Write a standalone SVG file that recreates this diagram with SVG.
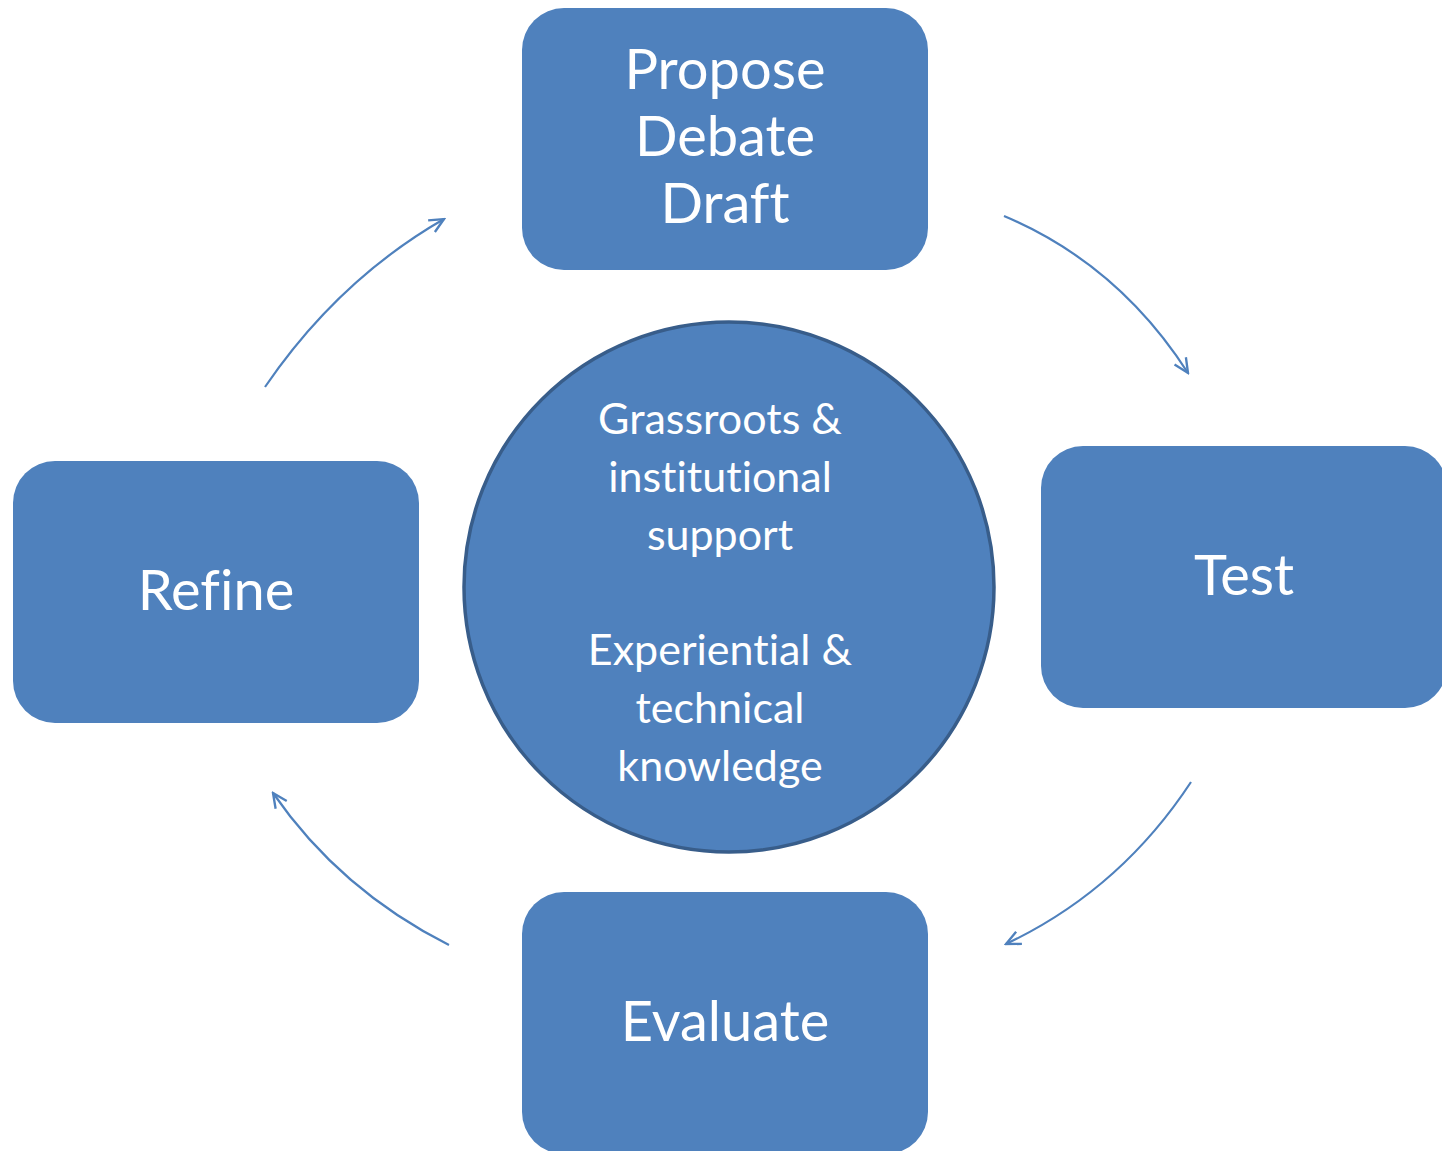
<svg xmlns="http://www.w3.org/2000/svg" width="1442" height="1151" viewBox="0 0 1442 1151">
<style>
.box{fill:#4F81BD;}
text{font-variant-ligatures:none;font-feature-settings:"liga" 0,"clig" 0;}
.lbl{fill:#fff;font-family:Lato,"Liberation Sans",sans-serif;font-size:56px;text-anchor:middle;}
.clbl{fill:#fff;font-family:Lato,"Liberation Sans",sans-serif;font-size:43px;text-anchor:middle;}
.arc{fill:none;stroke:#4F81BD;stroke-width:2.2;marker-end:url(#ah);}
</style>
<defs>
<marker id="ah" viewBox="0 0 20 20" refX="18" refY="10" markerWidth="18" markerHeight="18" markerUnits="userSpaceOnUse" orient="auto">
<polyline points="2,2.5 18,10 2,17.5" fill="none" stroke="#4F81BD" stroke-width="2.6"/>
</marker>
</defs>
<rect width="1442" height="1151" fill="#fff"/>
<g id="connectors">
<path class="arc" d="M1004,216 Q1118,264 1188,373"/>
<path class="arc" d="M1191,782 Q1120,890 1006,944"/>
<path class="arc" d="M449,945 Q340,890 273,793"/>
<path class="arc" d="M265,387 Q338,280 444,219"/>
</g>
<g id="center">
<circle cx="729" cy="587" r="265" fill="#4F81BD" stroke="#385D8A" stroke-width="3.5"/>
<text class="clbl" x="720" y="434">Grassroots &amp;</text>
<text class="clbl" x="720" y="492">institutional</text>
<text class="clbl" x="720" y="550">support</text>
<text class="clbl" x="720" y="665">Experiential &amp;</text>
<text class="clbl" x="720" y="723">technical</text>
<text class="clbl" x="720" y="781">knowledge</text>
</g>
<g id="propose">
<rect class="box" x="522" y="8" width="406" height="262" rx="42"/>
<text class="lbl" x="725" y="89">Propose</text>
<text class="lbl" x="725" y="156">Debate</text>
<text class="lbl" x="725" y="223">Draft</text>
</g>
<g id="test">
<rect class="box" x="1041" y="446" width="406" height="262" rx="42"/>
<text class="lbl" x="1244" y="595">Test</text>
</g>
<g id="evaluate">
<rect class="box" x="522" y="892" width="406" height="262" rx="42"/>
<text class="lbl" x="725" y="1041">Evaluate</text>
</g>
<g id="refine">
<rect class="box" x="13" y="461" width="406" height="262" rx="42"/>
<text class="lbl" x="216" y="610">Refine</text>
</g>
</svg>
